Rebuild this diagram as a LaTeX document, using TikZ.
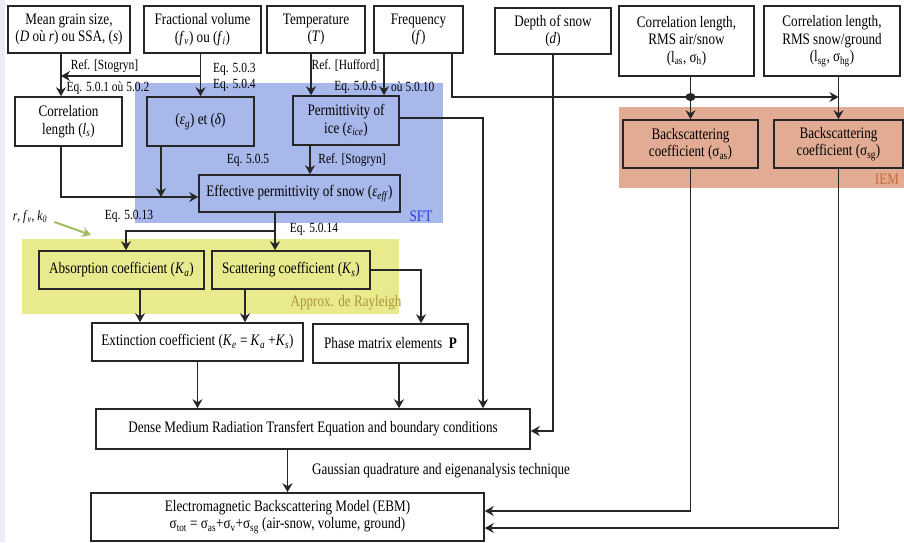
\documentclass[tikz,border=0pt]{standalone}
\usepackage{fontspec}
\setmainfont{Liberation Serif}[FakeStretch=0.82]
\usepackage{xcolor}
\usepackage{tikz}
\usetikzlibrary{arrows.meta}

\definecolor{sftblue}{RGB}{168,184,235}
\definecolor{sftlabel}{RGB}{40,60,225}
\definecolor{rayyellow}{RGB}{233,234,142}
\definecolor{raylabel}{RGB}{170,150,55}
\definecolor{iemsalmon}{RGB}{226,172,148}
\definecolor{iemlabel}{RGB}{200,105,55}
\definecolor{hintgreen}{RGB}{160,190,95}
\definecolor{leftstrip}{RGB}{236,236,246}

\begin{document}
\begin{tikzpicture}[x=1pt,y=-1pt,
  box/.style={draw=black!85,line width=1.6pt,align=center,inner sep=1pt,font=\fontsize{16}{17.5}\selectfont},
  lbl/.style={inner sep=0pt,font=\fontsize{14}{15}\selectfont},
  biglbl/.style={inner sep=0pt,font=\fontsize{16}{17}\selectfont},
  wire/.style={line width=1.6pt,draw=black!85},
  arr/.style={wire,-{Stealth[length=9pt,width=10pt,inset=3pt]}},
  greenarr/.style={line width=2pt,draw=hintgreen,-{Stealth[length=9pt,width=10pt,inset=3pt]}}]
\useasboundingbox (0,0) rectangle (904,542);
\fill[leftstrip] (0,0) rectangle (5,542);
\fill[sftblue] (135,83) rectangle (443,223);
\fill[rayyellow] (22,239) rectangle (399,314);
\fill[iemsalmon] (619,107) rectangle (904,188);

\node[box,minimum width=122pt,minimum height=47pt] (grain) at (69,29.5) {Mean grain size,\\(\textit{D} où \textit{r}) ou SSA, (\textit{s})};
\node[box,minimum width=117pt,minimum height=47pt] (fracvol) at (202.5,29.5) {Fractional volume\\(\textit{f}\textsubscript{\textit{v}}) ou (\textit{f}\textsubscript{\textit{i}})};
\node[box,minimum width=98pt,minimum height=47pt] (temp) at (316,29.5) {Temperature\\(\textit{T})};
\node[box,minimum width=89pt,minimum height=47pt] (freq) at (418.5,29.5) {Frequency\\(\textit{f})};
\node[box,minimum width=116pt,minimum height=46pt] (depth) at (553,31) {Depth of snow\\(\textit{d})};
\node[box,minimum width=135pt,minimum height=70pt] (rmsas) at (686.5,41) {Correlation length,\\RMS air/snow\\(l\textsubscript{as}, σ\textsubscript{h})};
\node[box,minimum width=136pt,minimum height=70pt] (rmssg) at (832,41) {Correlation length,\\RMS snow/ground\\(l\textsubscript{sg}, σ\textsubscript{hg})};

\node[box,minimum width=107pt,minimum height=49pt] (corrlen) at (68.5,121.5) {Correlation\\length (\textit{l}\textsubscript{\textit{s}})};
\node[box,minimum width=107pt,minimum height=49pt] (epsg) at (200.5,121.5) {(\textit{ε}\textsubscript{\textit{g}}) et (\textit{δ})};
\node[box,minimum width=106pt,minimum height=49pt] (ice) at (346,120.5) {Permittivity of\\ice (\textit{ε}\textsubscript{\textit{ice}})};
\node[box,minimum width=201pt,minimum height=37pt] (eff) at (299.5,193.5) {Effective permittivity of snow (\textit{ε}\textsubscript{\textit{eff}})};
\node[box,minimum width=135pt,minimum height=48pt] (bsas) at (690.5,144) {Backscattering\\coefficient (σ\textsubscript{as})};
\node[box,minimum width=129pt,minimum height=48pt] (bssg) at (838.5,144) {Backscattering\\coefficient (σ\textsubscript{sg})};

\node[box,minimum width=165pt,minimum height=38pt] (absorp) at (121.5,270) {Absorption coefficient (\textit{K}\textsubscript{\textit{a}})};
\node[box,minimum width=158pt,minimum height=38pt] (scatt) at (291,270) {Scattering coefficient (\textit{K}\textsubscript{\textit{s}})};
\node[box,minimum width=211pt,minimum height=38pt] (ext) at (197.5,342) {Extinction coefficient (\textit{K}\textsubscript{\textit{e}} = \textit{K}\textsubscript{\textit{a}} +\textit{K}\textsubscript{\textit{s}})};
\node[box,minimum width=155pt,minimum height=39pt] (phase) at (390.5,343.5) {Phase matrix elements \ \textbf{P}};
\node[box,minimum width=434pt,minimum height=40pt] (dmrt) at (313,429) {Dense Medium Radiation Transfert Equation and boundary conditions};
\node[box,minimum width=393pt,minimum height=48pt] (ebm) at (287.5,517) {Electromagnetic Backscattering Model (EBM)\\σ\textsubscript{tot} = σ\textsubscript{as}+σ\textsubscript{v}+σ\textsubscript{sg} (air-snow, volume, ground)};

\node[lbl] (refstog) at (104.5,66) {Ref. [Stogryn]};
\node[lbl] (eqcorr) at (108,88) {Eq. 5.0.1 où 5.0.2};
\node[lbl,anchor=west] (eqfva) at (213,69) {Eq. 5.0.3};
\node[lbl,anchor=west] (eqfvb) at (213,85) {Eq. 5.0.4};
\node[lbl] (refhuff) at (345.5,66) {Ref. [Hufford]};
\node[lbl,anchor=east] (eqicea) at (377,87) {Eq. 5.0.6};
\node[lbl,anchor=west] (eqiceb) at (391,87) {où 5.0.10};
\node[lbl] (eqeff) at (248,160) {Eq. 5.0.5};
\node[lbl] (refstogice) at (352,160) {Ref. [Stogryn]};
\node[biglbl,text=sftlabel] (sft) at (421,216) {SFT};
\node[lbl] (rfk) at (30,217) {\textit{r}, \textit{f}\textsubscript{\textit{v}}, \textit{k}\textsubscript{\textit{0}}};
\node[lbl] (eqabs) at (129,216) {Eq. 5.0.13};
\node[lbl] (eqscatt) at (314,229) {Eq. 5.0.14};
\node[biglbl,text=raylabel] (rayl) at (346,303) {Approx. de Rayleigh};
\node[biglbl,text=iemlabel] (iem) at (887,179) {IEM};
\node[biglbl] (gauss) at (441,471) {Gaussian quadrature and eigenanalysis technique};

\coordinate (gline) at ([xshift=-8pt]grain.south);
\coordinate (fvbend) at (200.5,76);
\coordinate (corrbend) at (61,197);
\coordinate (epsgline) at ([xshift=-39.5pt]epsg.south);
\coordinate (tline) at ([xshift=-5pt]temp.south);
\coordinate (fline) at ([xshift=-34.5pt]freq.south);
\coordinate (freqbend) at (452,97);
\coordinate (asdot) at (690.5,97);
\coordinate (icebend) at (483,118);
\coordinate (iline) at ([xshift=-36pt]ice.south);
\coordinate (depthbend) at (553,431);
\coordinate (effbend) at (275,231);
\coordinate (absbend) at (126,231);
\coordinate (aline) at ([xshift=18.5pt]absorp.south);
\coordinate (sline) at ([xshift=-46pt]scatt.south);
\coordinate (scattbend) at (421,270);
\coordinate (pline) at ([xshift=8.5pt]phase.south);
\coordinate (asbend) at (690.5,511);
\coordinate (sgbend) at (838.5,528);
\coordinate (rfkend) at (91,235);

\draw[arr] (gline) -- (gline |- corrlen.north);
\draw[arr] (fracvol.south -| epsg.north) -- (epsg.north);
\draw[arr] (fvbend) -- (fvbend -| gline);
\draw[arr] (corrbend |- corrlen.south) -- (corrbend) -- (corrbend -| eff.west);
\draw[arr] (epsgline) -- (epsgline |- corrbend);
\draw[arr] (tline) -- (tline |- ice.north);
\draw[arr] (fline) -- (fline |- ice.north);
\draw[arr] (freqbend |- freq.south) -- (freqbend) -- (freqbend -| bssg.north);
\draw[arr] (rmsas.south -| bsas.north) -- (bsas.north);
\fill[black!85] (asdot) ellipse (5pt and 4pt);
\draw[arr] (rmssg.south -| bssg.north) -- (bssg.north);
\draw[arr] (ice.east |- icebend) -- (icebend) -- (icebend |- dmrt.north);
\draw[arr] (depth.south) -- (depthbend) -- (depthbend -| dmrt.east);
\draw[arr] (iline) -- (iline |- eff.north);
\draw[arr] (effbend |- eff.south) -- (effbend |- scatt.north);
\draw[arr] (effbend) -- (absbend) -- (absbend |- absorp.north);
\draw[arr] (aline) -- (aline |- ext.north);
\draw[arr] (sline) -- (sline |- ext.north);
\draw[arr] (scatt.east) -- (scattbend) -- (scattbend |- phase.north);
\draw[arr] (ext.south) -- (ext.south |- dmrt.north);
\draw[arr] (pline) -- (pline |- dmrt.north);
\draw[arr] (dmrt.south -| ebm.north) -- (ebm.north);
\draw[arr] (bsas.south) -- (asbend) -- (asbend -| ebm.east);
\draw[arr] (bssg.south) -- (sgbend) -- (sgbend -| ebm.east);
\draw[greenarr] ([xshift=7pt,yshift=-5pt]rfk.east) -- (rfkend);
\end{tikzpicture}
\end{document}
